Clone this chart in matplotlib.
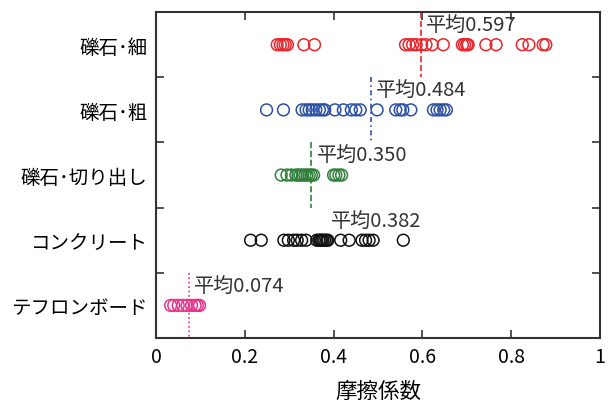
import numpy as np
import matplotlib
matplotlib.use("Agg")
import matplotlib.pyplot as plt

plt.rcParams['font.family'] = ['Noto Sans CJK JP', 'DejaVu Sans']

# categories, top to bottom
labels = ["礫石･細", "礫石･粗", "礫石･切り出し", "コンクリート", "テフロンボード"]
colors = ["#e8262c", "#2b50a4", "#2f7f3a", "#111111", "#e8358c"]
line_styles = ["--", (0, (3, 2, 1, 2)), "--", None, ":"]

# friction coefficients
fine = [0.273, 0.280, 0.286, 0.291, 0.296, 0.333, 0.357,
        0.562, 0.570, 0.578, 0.586, 0.598, 0.608, 0.622, 0.647,
        0.690, 0.695, 0.700, 0.703, 0.743, 0.766, 0.825, 0.840, 0.872, 0.878]
coarse = [0.249, 0.287, 0.329, 0.338, 0.345, 0.352, 0.360, 0.368, 0.375, 0.380,
          0.403, 0.422, 0.440, 0.450, 0.460, 0.498,
          0.540, 0.550, 0.556, 0.574, 0.625, 0.633, 0.640, 0.648, 0.654]
cut = [0.282, 0.295, 0.305, 0.315, 0.320, 0.325, 0.330, 0.335, 0.340, 0.345,
       0.350, 0.355, 0.400, 0.405, 0.412, 0.418]
concrete = [0.213, 0.237, 0.288, 0.298, 0.310, 0.318, 0.328, 0.338,
            0.362, 0.367, 0.370, 0.373, 0.376, 0.380, 0.384, 0.387,
            0.416, 0.435, 0.464, 0.472, 0.480, 0.489, 0.557]
teflon = [0.033, 0.040, 0.050, 0.060, 0.070, 0.080, 0.088, 0.093, 0.098]
series = [fine, coarse, cut, concrete, teflon]

means = [0.597, 0.484, 0.350, 0.382, 0.074]

fig = plt.figure(figsize=(6.08, 4.10), dpi=100)
ax = fig.add_axes([0.2566, 0.1732, 0.7302, 0.7948])

for i, vals in enumerate(series):
    y = i + 1
    ax.scatter(vals, [y] * len(vals), s=72, facecolors='none',
               edgecolors=colors[i], linewidths=1.1, zorder=3)
    if line_styles[i] is not None:
        ax.plot([means[i], means[i]], [y - 0.5, y + 0.5], color=colors[i],
                linestyle=line_styles[i], linewidth=1.2, zorder=2)
    ax.text(means[i] + 0.012, y - 0.31, "平均{:.3f}".format(means[i]),
            fontsize=14.5, color="#333333", va="center", ha="left")

ax.set_xlim(0, 1)
ax.set_ylim(5.5, 0.5)
ax.set_xticks([0, 0.2, 0.4, 0.6, 0.8, 1])
ax.set_xticklabels(["0", "0.2", "0.4", "0.6", "0.8", "1"], fontsize=14)
ax.set_yticks([1.5, 2.5, 3.5, 4.5])
ax.set_yticklabels([])
ax.set_yticks(range(1, 6), minor=True)
ax.set_yticklabels(labels, minor=True, fontsize=14)
ax.tick_params(axis='both', which='major', direction='in', length=6,
               width=1.2, top=True, right=True, color="#333333")
ax.tick_params(axis='y', which='minor', length=0, pad=6)
ax.tick_params(axis='x', which='major', pad=6)
ax.set_xlabel("摩擦係数", fontsize=15.5, labelpad=9)

for sp in ax.spines.values():
    sp.set_linewidth(1.5)
    sp.set_color("#333333")

fig.savefig("out.png", dpi=100)
